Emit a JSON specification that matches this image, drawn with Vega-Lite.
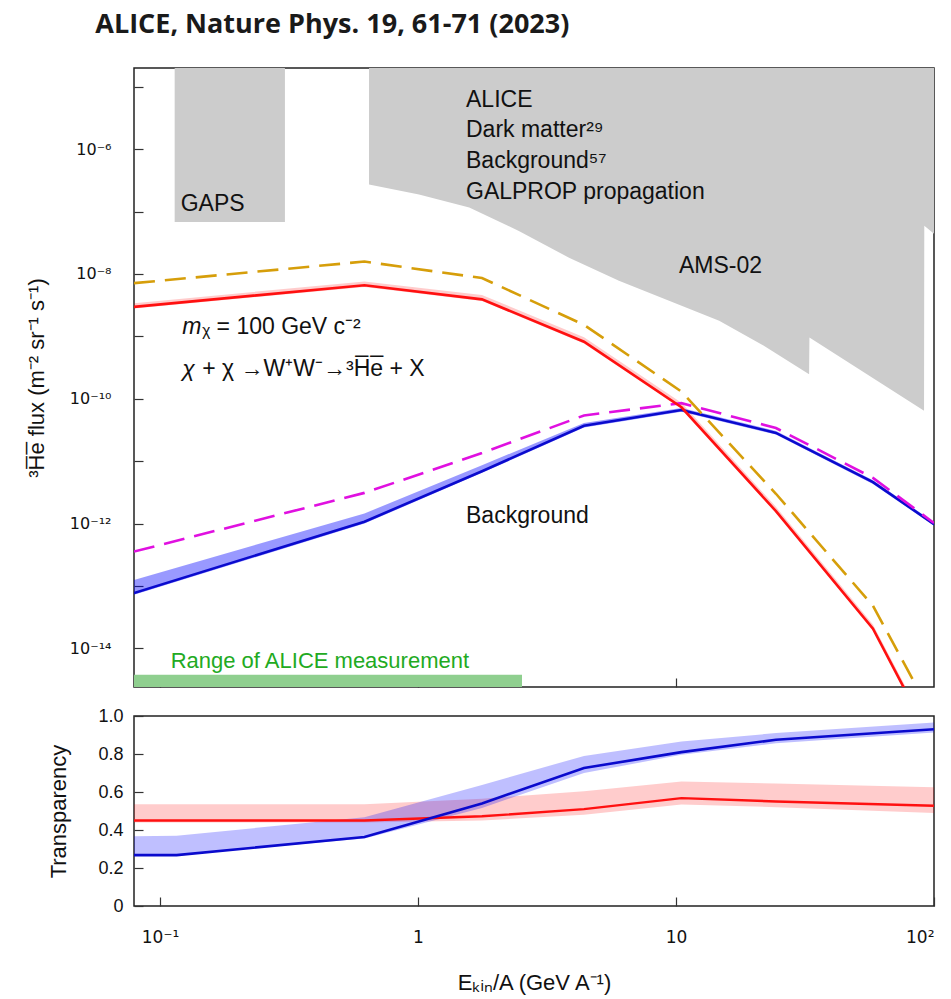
{
  "$schema": "https://vega.github.io/schema/vega-lite/v6.json",
  "padding": {"left": 24, "top": 11, "right": 5, "bottom": 2},
  "title": {"text": "ALICE, Nature Phys. 19, 61-71 (2023)", "anchor": "start", "frame": "bounds", "fontSize": 27, "fontWeight": "bold", "font": "Open Sans", "color": "#1a1a1a", "offset": 28, "dx": 71},
  "config": {
    "font": "Liberation Sans",
    "view": {"stroke": "#222222", "strokeWidth": 1.5},
    "axis": {"grid": false, "domain": false, "tickColor": "#333333", "tickWidth": 1.2, "labelColor": "#111111", "titleColor": "#111111", "labelFontSize": 18, "titleFontSize": 22, "titleFontWeight": "normal", "labelFont": "Liberation Sans", "titleFont": "Liberation Sans"}
  },
  "datasets": {
    "flux": [
      {"s": "dm", "x": 0.0793, "y": 2.97e-9, "lo": 2.8e-9, "hi": 3.4e-9},
      {"s": "dm", "x": 0.62, "y": 6.6e-9, "lo": 6.2e-9, "hi": 7.6e-9},
      {"s": "dm", "x": 1.77, "y": 3.92e-9, "lo": 3.7e-9, "hi": 4.6e-9},
      {"s": "dm", "x": 4.4, "y": 8.2e-10, "lo": 7.7e-10, "hi": 9.7e-10},
      {"s": "dm", "x": 10.5, "y": 7.3e-11, "lo": 6.9e-11, "hi": 8.6e-11},
      {"s": "dm", "x": 24.4, "y": 1.58e-12, "lo": 1.49e-12, "hi": 1.85e-12},
      {"s": "dm", "x": 58, "y": 2.06e-14, "lo": 1.94e-14, "hi": 2.4e-14},
      {"s": "dm", "x": 100, "y": 2.8e-16, "lo": 2.6e-16, "hi": 3.3e-16},
      {"s": "dm2", "x": 0.0793, "y": 7.13e-9},
      {"s": "dm2", "x": 0.62, "y": 1.58e-8},
      {"s": "dm2", "x": 1.77, "y": 8.6e-9},
      {"s": "dm2", "x": 4.4, "y": 1.53e-9},
      {"s": "dm2", "x": 10.5, "y": 1.3e-10},
      {"s": "dm2", "x": 24.4, "y": 3.0e-12},
      {"s": "dm2", "x": 58, "y": 4.8e-14},
      {"s": "dm2", "x": 100, "y": 7.4e-16},
      {"s": "bg", "x": 0.0793, "y": 7.7e-14, "lo": 7.2e-14, "hi": 1.25e-13},
      {"s": "bg", "x": 0.62, "y": 1.07e-12, "lo": 1.0e-12, "hi": 1.45e-12},
      {"s": "bg", "x": 1.77, "y": 6.9e-12, "lo": 6.5e-12, "hi": 8.6e-12},
      {"s": "bg", "x": 4.4, "y": 3.68e-11, "lo": 3.45e-11, "hi": 4.1e-11},
      {"s": "bg", "x": 10.5, "y": 6.6e-11, "lo": 6.2e-11, "hi": 7.1e-11},
      {"s": "bg", "x": 24.4, "y": 2.84e-11, "lo": 2.67e-11, "hi": 3.05e-11},
      {"s": "bg", "x": 58, "y": 4.6e-12, "lo": 4.3e-12, "hi": 4.95e-12},
      {"s": "bg", "x": 100, "y": 9.8e-13, "lo": 9.2e-13, "hi": 1.05e-12},
      {"s": "bg2", "x": 0.0793, "y": 3.55e-13},
      {"s": "bg2", "x": 0.62, "y": 3.1e-12},
      {"s": "bg2", "x": 1.77, "y": 1.35e-11},
      {"s": "bg2", "x": 4.4, "y": 5.4e-11},
      {"s": "bg2", "x": 10.5, "y": 8.5e-11},
      {"s": "bg2", "x": 24.4, "y": 3.4e-11},
      {"s": "bg2", "x": 58, "y": 5.4e-12},
      {"s": "bg2", "x": 100, "y": 1.02e-12}
    ],
    "ams": [
      {"x": 0.646, "y": 2.72e-7},
      {"x": 1.009, "y": 1.875e-7},
      {"x": 1.58, "y": 1.16e-7},
      {"x": 2.46, "y": 4.9e-8},
      {"x": 3.85, "y": 1.82e-8},
      {"x": 6.01, "y": 7.76e-9},
      {"x": 9.4, "y": 3.72e-9},
      {"x": 14.7, "y": 1.78e-9},
      {"x": 21.9, "y": 7.1e-10},
      {"x": 32.8, "y": 2.48e-10},
      {"x": 32.9, "y": 9.55e-10},
      {"x": 91.5, "y": 6.4e-11},
      {"x": 91.7, "y": 5.9e-8},
      {"x": 100, "y": 4.4e-8}
    ],
    "gaps": [{"x": 0.114, "x2": 0.305, "y": 6.8e-8, "y2": 2e-5}],
    "range": [{"x": 0.0793, "x2": 2.53, "y": 2.4e-15, "y2": 3.76e-15}],
    "labels": [
      {"x": 1.535, "y": 4.77e-6, "text": "ALICE"},
      {"x": 1.535, "y": 1.575e-6, "text": "Dark matter²⁹"},
      {"x": 1.535, "y": 5.07e-7, "text": "Background⁵⁷"},
      {"x": 1.535, "y": 1.58e-7, "text": "GALPROP propagation"},
      {"x": 0.1203, "y": 1.026e-7, "text": "GAPS"},
      {"x": 10.27, "y": 1.05e-8, "text": "AMS-02"},
      {"x": 1.535, "y": 1.025e-12, "text": "Background"}
    ],
    "rangeLabel": [{"x": 0.11, "y": 4.92e-15, "text": "Range of ALICE measurement"}],
    "eq": [
      {"x": 0.122, "y": 1.11e-9, "a": "m", "b": "ᵪ = 100 GeV c⁻²"},
      {"x": 0.122, "y": 2.33e-10, "a": "χ", "b": "+ χ →W⁺W⁻→³H̅e̅ + X"}
    ],
    "trans": [
      {"s": "bg", "x": 0.0793, "t": 0.268, "lo": 0.268, "hi": 0.367},
      {"s": "bg", "x": 0.116, "t": 0.268, "lo": 0.268, "hi": 0.37},
      {"s": "bg", "x": 0.62, "t": 0.363, "lo": 0.355, "hi": 0.467},
      {"s": "bg", "x": 1.77, "t": 0.54, "lo": 0.516, "hi": 0.637},
      {"s": "bg", "x": 4.4, "t": 0.726, "lo": 0.7, "hi": 0.79},
      {"s": "bg", "x": 10.5, "t": 0.81, "lo": 0.796, "hi": 0.866},
      {"s": "bg", "x": 24.4, "t": 0.875, "lo": 0.857, "hi": 0.91},
      {"s": "bg", "x": 100, "t": 0.93, "lo": 0.913, "hi": 0.966},
      {"s": "dm", "x": 0.0793, "t": 0.45, "lo": 0.44, "hi": 0.536},
      {"s": "dm", "x": 0.62, "t": 0.45, "lo": 0.44, "hi": 0.536},
      {"s": "dm", "x": 1.77, "t": 0.472, "lo": 0.45, "hi": 0.565},
      {"s": "dm", "x": 4.4, "t": 0.51, "lo": 0.48, "hi": 0.604},
      {"s": "dm", "x": 10.5, "t": 0.568, "lo": 0.534, "hi": 0.655},
      {"s": "dm", "x": 24.4, "t": 0.55, "lo": 0.52, "hi": 0.645},
      {"s": "dm", "x": 100, "t": 0.528, "lo": 0.49, "hi": 0.625}
    ]
  },
  "vconcat": [
    {
      "width": 800,
      "height": 619,
      "encoding": {
        "x": {"field": "x", "type": "quantitative", "scale": {"type": "log", "domain": [0.0793, 100], "nice": false},
              "axis": {"values": [0.1, 1, 10], "labels": false, "title": null, "tickSize": -9}},
        "y": {"field": "y", "type": "quantitative", "scale": {"type": "log", "domain": [2.4e-15, 2e-5], "nice": false},
              "axis": {"values": [1e-14, 1e-13, 1e-12, 1e-11, 1e-10, 1e-9, 1e-8, 1e-7, 1e-6, 1e-5], "tickSize": -9, "labelPadding": 32, "labelFontSize": 16, "labelFont": "DejaVu Sans",
                       "labelExpr": "round(log(datum.value)/LN10) == -6 ? '10⁻⁶' : round(log(datum.value)/LN10) == -8 ? '10⁻⁸' : round(log(datum.value)/LN10) == -10 ? '10⁻¹⁰' : round(log(datum.value)/LN10) == -12 ? '10⁻¹²' : round(log(datum.value)/LN10) == -14 ? '10⁻¹⁴' : ''",
                       "title": "³H̅e̅ flux (m⁻² sr⁻¹ s⁻¹)", "titleX": -98, "titleBaseline": "middle"}}
      },
      "layer": [
        {"data": {"name": "gaps"}, "mark": {"type": "rect", "color": "#cccccc", "clip": true}, "encoding": {"x2": {"field": "x2"}, "y2": {"field": "y2"}}},
        {"data": {"name": "ams"}, "mark": {"type": "area", "color": "#cccccc", "clip": true}, "encoding": {"y2": {"datum": 2e-5}}},
        {"data": {"name": "range"}, "mark": {"type": "rect", "color": "#8fcf8f", "clip": true}, "encoding": {"x2": {"field": "x2"}, "y2": {"field": "y2"}}},
        {"data": {"name": "flux"}, "transform": [{"filter": "datum.s == 'dm'"}], "mark": {"type": "area", "color": "#ff0000", "opacity": 0.2, "clip": true}, "encoding": {"y": {"field": "lo"}, "y2": {"field": "hi"}}},
        {"data": {"name": "flux"}, "transform": [{"filter": "datum.s == 'bg'"}], "mark": {"type": "area", "color": "#0000ff", "opacity": 0.4, "clip": true}, "encoding": {"y": {"field": "lo"}, "y2": {"field": "hi"}}},
        {"data": {"name": "flux"}, "transform": [{"filter": "datum.s == 'bg'"}], "mark": {"type": "line", "color": "#0a0acd", "strokeWidth": 2.6, "clip": true}},
        {"data": {"name": "flux"}, "transform": [{"filter": "datum.s == 'bg2'"}], "mark": {"type": "line", "color": "#e010e0", "strokeWidth": 2.6, "strokeDash": [21, 10], "clip": true}},
        {"data": {"name": "flux"}, "transform": [{"filter": "datum.s == 'dm'"}], "mark": {"type": "line", "color": "#ff1010", "strokeWidth": 2.6, "clip": true}},
        {"data": {"name": "flux"}, "transform": [{"filter": "datum.s == 'dm2'"}], "mark": {"type": "line", "color": "#d69e0a", "strokeWidth": 2.6, "strokeDash": [21, 10], "clip": true}},
        {"data": {"name": "labels"}, "mark": {"type": "text", "align": "left", "baseline": "alphabetic", "fontSize": 23, "color": "#111111"}, "encoding": {"text": {"field": "text"}}},
        {"data": {"name": "rangeLabel"}, "mark": {"type": "text", "align": "left", "baseline": "alphabetic", "fontSize": 22, "color": "#22aa22"}, "encoding": {"text": {"field": "text"}}},
        {"data": {"name": "eq"}, "mark": {"type": "text", "align": "left", "baseline": "alphabetic", "fontSize": 23, "fontStyle": "italic", "color": "#111111"}, "encoding": {"text": {"field": "a"}}},
        {"data": {"name": "eq"}, "mark": {"type": "text", "align": "left", "baseline": "alphabetic", "fontSize": 23, "dx": 20, "color": "#111111"}, "encoding": {"text": {"field": "b"}}}
      ]
    },
    {
      "width": 800,
      "height": 190,
      "data": {"name": "trans"},
      "encoding": {
        "x": {"field": "x", "type": "quantitative", "scale": {"type": "log", "domain": [0.0793, 100], "nice": false},
              "axis": {"values": [0.1, 1, 10, 100], "tickSize": -9, "labelPadding": 32, "labelFontSize": 17, "labelFont": "DejaVu Sans",
                       "labelExpr": "datum.value < 0.5 ? '10⁻¹' : datum.value < 5 ? '1' : datum.value < 50 ? '10' : '10²'",
                       "title": "Eₖᵢₙ/A (GeV A⁻¹)", "titleY": 83, "titleBaseline": "alphabetic"}},
        "y": {"field": "t", "type": "quantitative", "scale": {"domain": [0, 1], "nice": false},
              "axis": {"values": [0, 0.2, 0.4, 0.6, 0.8, 1.0], "tickSize": -9, "labelPadding": 20, "labelFontSize": 18,
                       "labelExpr": "datum.value == 0 ? '0' : format(datum.value, '.1f')",
                       "title": "Transparency", "titleX": -76, "titleBaseline": "middle"}}
      },
      "layer": [
        {"transform": [{"filter": "datum.s == 'dm'"}], "mark": {"type": "area", "color": "#ff0000", "opacity": 0.2}, "encoding": {"y": {"field": "lo"}, "y2": {"field": "hi"}}},
        {"transform": [{"filter": "datum.s == 'bg'"}], "mark": {"type": "area", "color": "#0000ff", "opacity": 0.25}, "encoding": {"y": {"field": "lo"}, "y2": {"field": "hi"}}},
        {"transform": [{"filter": "datum.s == 'dm'"}], "mark": {"type": "line", "color": "#ff1010", "strokeWidth": 2.4}},
        {"transform": [{"filter": "datum.s == 'bg'"}], "mark": {"type": "line", "color": "#0a0acd", "strokeWidth": 2.6}}
      ]
    }
  ],
  "spacing": 17
}
